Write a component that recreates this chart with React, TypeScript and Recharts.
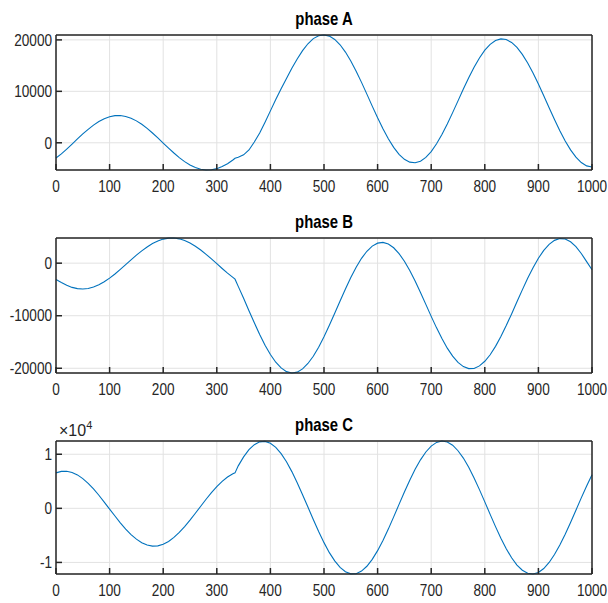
import React from "react";
import { LineChart, Line, XAxis, YAxis, CartesianGrid } from "recharts";

// sample positions (kink where the phase jumps at ~334)
const X_VALUES = [
  0, 10, 20, 30, 40, 50, 60, 70, 80, 90, 100, 110, 120, 130, 140, 150, 160, 170, 180, 190,
  200, 210, 220, 230, 240, 250, 260, 270, 280, 290, 300, 310, 320, 330, 334, 340, 350, 360,
  370, 380, 390, 400, 410, 420, 430, 440, 450, 460, 470, 480, 490, 500, 510, 520, 530, 540,
  550, 560, 570, 580, 590, 600, 610, 620, 630, 640, 650, 660, 670, 680, 690, 700, 710, 720,
  730, 740, 750, 760, 770, 780, 790, 800, 810, 820, 830, 840, 850, 860, 870, 880, 890, 900,
  910, 920, 930, 940, 950, 960, 970, 980, 990, 1000,
];

const PHASE_A = [
  -2950, -2150, -1220, -250, 750, 1720, 2620, 3430, 4130, 4680, 5060, 5270, 5290, 5120, 4770,
  4260, 3590, 2790, 1900, 940, -50, -1040, -1990, -2880, -3660, -4310, -4810, -5140, -5290,
  -5250, -5030, -4630, -4070, -3350, -3000, -2800, -2350, -1400, 150, 1900, 4000, 6200, 8400,
  10500, 12500, 14500, 16300, 17900, 19250, 20250, 20820, 20950, 20730, 20090, 19050, 17630,
  15900, 13920, 11740, 9460, 7130, 4860, 2720, 770, -880, -2240, -3220, -3760, -3890, -3590,
  -2850, -1710, -200, 1600, 3660, 5860, 8150, 10440, 12660, 14680, 16490, 18000, 19140, 19890,
  20190, 20060, 19500, 18530, 17190, 15510, 13560, 11420, 9140, 6820, 4530, 2350, 360, -1380,
  -2800, -3840, -4490, -4700,
];

const PHASE_B = [
  -3100, -3670, -4210, -4610, -4850, -4920, -4820, -4550, -4120, -3550, -2850, -2060, -1190,
  -290, 630, 1520, 2340, 3090, 3730, 4230, 4580, 4770, 4790, 4630, 4310, 3840, 3230, 2500,
  1680, 810, -100, -1010, -1890, -2690, -3050, -4420, -6690, -9040, -11350, -13570, -15600,
  -17380, -18850, -19940, -20640, -20900, -20730, -20120, -19090, -17710, -15990, -14000,
  -11810, -9530, -7190, -4900, -2730, -780, 920, 2270, 3250, 3810, 3950, 3650, 2930, 1820, 360,
  -1410, -3410, -5590, -7840, -10120, -12310, -14340, -16170, -17690, -18890, -19680, -20060,
  -20030, -19550, -18670, -17430, -15830, -13970, -11880, -9660, -7350, -5080, -2890, -860,
  930, 2430, 3580, 4340, 4680, 4600, 4080, 3150, 1850, 300, -1250,
];

const PHASE_C = [
  6560, 6830, 6850, 6630, 6180, 5500, 4630, 3590, 2420, 1160, -130, -1420, -2670, -3830, -4850,
  -5700, -6360, -6790, -6990, -6940, -6650, -6130, -5380, -4460, -3390, -2190, -910, 390, 1680,
  2900, 4020, 4990, 5790, 6390, 6560, 7850, 9510, 10840, 11770, 12290, 12380, 12030, 11270,
  10110, 8610, 6790, 4740, 2530, 240, -2050, -4270, -6340, -8190, -9720, -10920, -11720, -12110,
  -12080, -11600, -10710, -9430, -7820, -5930, -3840, -1580, 730, 3020, 5190, 7210, 8970, 10420,
  11500, 12190, 12450, 12280, 11680, 10650, 9290, 7590, 5620, 3460, 1200, -1120, -3380, -5530,
  -7460, -9140, -10480, -11450, -12000, -12140, -11850, -11130, -10010, -8550, -6790, -4780,
  -2610, -340, 1940, 4130, 6210,
];

const X_TICKS = [0, 100, 200, 300, 400, 500, 600, 700, 800, 900, 1000];
const A_TICKS = [0, 10000, 20000];
const B_TICKS = [-20000, -10000, 0];
const C_TICKS = [-10000, 0, 10000];

const FONT = '"Liberation Sans", Arial, Helvetica, sans-serif';
const SQUEEZE = 0.85; // reference text is horizontally condensed
const INK = "#262626";
const BLUE = "#0072bd";
const GRID = "#e2e2e2";

const PLOT_LEFT = 56;
const PLOT_RIGHT = 592;
const MARGIN_TOP = 10;
const X_AXIS_H = 32;

const axisLine = { stroke: INK, strokeWidth: 1.5 };

// scale text horizontally around its anchor x
const squeeze = (x) => `matrix(${SQUEEZE},0,0,1,${x * (1 - SQUEEZE)},0)`;

function XTick({ x, y, payload }) {
  return (
    <text x={x} y={y} dy="0.71em" textAnchor="middle" fontSize={16} fontFamily={FONT} fill={INK} transform={squeeze(x)}>
      {payload.value}
    </text>
  );
}

function makeYTick(fmt) {
  return function YTick({ x, y, payload }) {
    const label = fmt ? fmt(payload.value) : String(payload.value);
    return (
      <text x={x} y={y} dy="0.36em" textAnchor="end" fontSize={16} fontFamily={FONT} fill={INK} transform={squeeze(x)}>
        {label}
      </text>
    );
  };
}

function Panel({ values, yTicks, plotTop, plotHeight, yFormat }) {
  const rows = X_VALUES.map((x, i) => ({ x, y: values[i] }));
  const yDomain = [Math.min(...values), Math.max(...values)];
  const height = MARGIN_TOP + plotHeight + X_AXIS_H;
  const YTick = makeYTick(yFormat);

  return (
    <div style={{ position: "absolute", left: 0, top: plotTop - MARGIN_TOP }}>
      <LineChart
        width={608}
        height={height}
        data={rows}
        margin={{ top: MARGIN_TOP - 1, right: 608 - PLOT_RIGHT - 1, bottom: 0, left: 0 }}
      >
        <CartesianGrid stroke={GRID} strokeWidth={1} />
        <XAxis
          dataKey="x"
          type="number"
          domain={[0, 1000]}
          ticks={X_TICKS}
          height={X_AXIS_H}
          tickSize={-6}
          tickMargin={17}
          axisLine={axisLine}
          tickLine={axisLine}
          tick={<XTick />}
          interval={0}
        />
        <XAxis
          xAxisId="t"
          dataKey="x"
          orientation="top"
          type="number"
          domain={[0, 1000]}
          ticks={X_TICKS}
          height={1}
          tickSize={-7}
          tickMargin={0}
          axisLine={axisLine}
          tickLine={axisLine}
          tick={false}
          interval={0}
        />
        <YAxis
          type="number"
          domain={yDomain}
          ticks={yTicks}
          width={PLOT_LEFT}
          tickSize={-6}
          tickMargin={10}
          axisLine={axisLine}
          tickLine={axisLine}
          tick={<YTick />}
          interval={0}
        />
        <YAxis
          yAxisId="r"
          orientation="right"
          type="number"
          domain={yDomain}
          ticks={yTicks}
          width={1}
          tickSize={-7}
          tickMargin={0}
          axisLine={axisLine}
          tickLine={axisLine}
          tick={false}
          interval={0}
        />
        {/* invisible twin so the mirrored top/right axes get drawn */}
        <Line
          xAxisId="t"
          yAxisId="r"
          dataKey="y"
          stroke="transparent"
          strokeWidth={0}
          dot={false}
          activeDot={false}
          legendType="none"
          isAnimationActive={false}
        />
        <Line
          dataKey="y"
          type="linear"
          stroke={BLUE}
          strokeWidth={1.1}
          dot={false}
          isAnimationActive={false}
        />
      </LineChart>
    </div>
  );
}

export default function App() {
  const titleX = (PLOT_LEFT + PLOT_RIGHT) / 2;
  const titleProps = {
    x: titleX,
    textAnchor: "middle",
    fontWeight: "bold",
    fontSize: 17.5,
    fill: "#000",
    transform: squeeze(titleX),
  };
  return (
    <div style={{ position: "absolute", left: 0, top: 0, width: 608, height: 603, background: "#fff" }}>
      <Panel values={PHASE_A} yTicks={A_TICKS} plotTop={35} plotHeight={135} />
      <Panel values={PHASE_B} yTicks={B_TICKS} plotTop={238} plotHeight={135} />
      <Panel
        values={PHASE_C}
        yTicks={C_TICKS}
        plotTop={441}
        plotHeight={133}
        yFormat={(v) => String(v / 10000)}
      />
      <svg
        width={608}
        height={603}
        style={{ position: "absolute", left: 0, top: 0, pointerEvents: "none" }}
        fontFamily={FONT}
      >
        <text {...titleProps} y={25}>
          phase A
        </text>
        <text {...titleProps} y={228}>
          phase B
        </text>
        <text {...titleProps} y={431}>
          phase C
        </text>
        <text x={59} y={436} fontSize={16} fill={INK}>
          ×10
          <tspan dy={-7} fontSize={11}>
            4
          </tspan>
        </text>
      </svg>
    </div>
  );
}
